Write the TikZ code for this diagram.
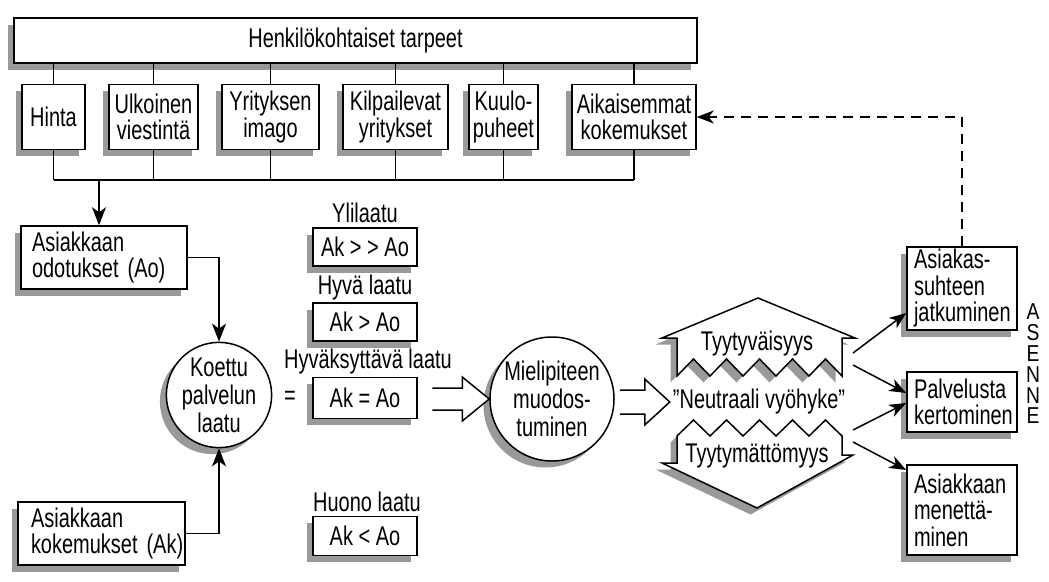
\documentclass[tikz,border=0pt]{standalone}
\usepackage{fontspec}
\setmainfont{Liberation Sans}[FakeStretch=0.74]
\newfontfamily\letterfont{Liberation Sans}[FakeStretch=0.84]
\usetikzlibrary{arrows.meta,shadows}
\definecolor{shade}{gray}{0.6}
\begin{document}
\begin{tikzpicture}[x=1pt,y=-1pt,
  txt/.style={font=\fontsize{27}{26.5}\selectfont},
  shd/.style={drop shadow={shadow xshift=-6.5pt,shadow yshift=-6.5pt,fill=shade,opacity=1}},
  boxc/.style={txt,draw,line width=1.5pt,fill=white,inner sep=0pt,align=center,shd},
  boxl/.style={txt,draw,line width=1.5pt,fill=white,inner sep=0pt,align=left,shd},
  disc/.style={circle,draw,line width=1.5pt,fill=white,inner sep=0pt,align=center,shd,
               font=\fontsize{27}{28}\selectfont},
  lbl/.style={txt,inner sep=0pt},
  letter/.style={inner sep=0pt,font=\letterfont\fontsize{23}{23}\selectfont},
  link/.style={line width=1.5pt},
  arr/.style={link,-{Stealth[length=18pt,width=14pt,inset=5pt]}},
  sarr/.style={link,-{Stealth[length=17pt,width=13pt,inset=5pt]}},
  zone/.style={line width=1.5pt,fill=white,line join=miter,
               preaction={fill=shade,draw=none,transform canvas={xshift=-6.5pt,yshift=-6.5pt}}},
  hollow/.style={line width=1.5pt,fill=white,line join=miter},
]
\fill[white] (0,0) rectangle (1049,581);
\useasboundingbox (0,0) rectangle (1049,581);

% needs and their sources
\node[boxc,minimum width=683pt,minimum height=45pt] (need) at (355.5,40.5) {Henkilökohtaiset tarpeet};
\node[boxc,minimum width=63pt,minimum height=65pt]  (hinta) at (53.5,117)  {Hinta};
\node[boxc,minimum width=89pt,minimum height=65pt]  (ulk)   at (153.5,117) {Ulkoinen\\viestintä};
\node[boxc,minimum width=97pt,minimum height=65pt]  (imago) at (270.5,117) {Yrityksen\\imago};
\node[boxc,minimum width=105pt,minimum height=65pt] (kilp)  at (395.5,117) {Kilpailevat\\yritykset};
\node[boxc,minimum width=69pt,minimum height=65pt]  (kuulo) at (503.5,117) {Kuulo-\\puheet};
\node[boxc,minimum width=124pt,minimum height=65pt] (aik)   at (634,117)   {Aikaisemmat\\kokemukset};

\coordinate (bus) at (0,180);
\coordinate (busdrop) at (99,180);
\foreach \n in {hinta,ulk,imago,kilp,kuulo,aik}{
  \draw[link] (\n.north |- need.south) -- (\n.north);
  \draw[link] (\n.south) -- (\n.south |- bus);
}
\draw[link] (hinta.south |- bus) -- (aik.south |- bus);

% expectations, experiences and perceived quality
\node[boxl,minimum width=166pt,minimum height=63pt,text width=144pt] (odot) at (104,257.5)
  {Asiakkaan\\\mbox{odotukset (Ao)}};
\node[boxl,minimum width=167pt,minimum height=63pt,text width=141pt] (kok) at (101.5,533.5)
  {Asiakkaan\\\mbox{kokemukset (Ak)}};
\node[disc,minimum size=100pt] (koettu) at (219,395) {Koettu\\palvelun\\laatu};

\draw[arr] (busdrop) -- (busdrop |- odot.north);
\draw[arr] (odot.east) -| (koettu.north);
\draw[arr] (kok.east) -| (koettu.south);

\node[lbl] (eq) at (290,398) {=};

% quality levels
\node[lbl] (t1) at (365,213) {Ylilaatu};
\node[boxc,minimum width=104pt,minimum height=38pt] (q1) at (365,247) {Ak > > Ao};
\node[lbl] (t2) at (365,288) {Hyvä laatu};
\node[boxc,minimum width=104pt,minimum height=38pt] (q2) at (365,322) {Ak > Ao};
\node[lbl] (t3) at (368,362) {Hyväksyttävä laatu};
\node[boxc,minimum width=104pt,minimum height=41pt] (q3) at (365,398) {Ak = Ao};
\node[lbl] (t4) at (367,502) {Huono laatu};
\node[boxc,minimum width=104pt,minimum height=39pt] (q4) at (365,536) {Ak < Ao};

% opinion forming
\node[disc,minimum size=124pt] (mieli) at (552,399) {Mielipiteen\\muodos-\\tuminen};
\draw[hollow] ([shift={(-57,-11)}]mieli.west) -- ++(30,0) -- ++(0,-11) -- (mieli.west)
  -- ++(-27,22) -- ++(0,-11) -- ++(-30,0);

% satisfaction zones
\draw[zone] (677,376) -- (677,338) -- (662,338) -- (758,298) -- (855,338) -- (842,338)
  -- (842,376) -- (825.5,359) -- (809,376) -- (792.5,359) -- (776,376) -- (759.5,359)
  -- (743,376) -- (726.5,359) -- (710,376) -- (693.5,359) -- cycle;
\draw[zone] (677,436) -- (677,463) -- (662,463) -- (757,508) -- (853,455) -- (842,455)
  -- (842,436) -- (825.5,420) -- (809,436) -- (792.5,420) -- (776,436) -- (759.5,420)
  -- (743,436) -- (726.5,420) -- (710,436) -- (693.5,420) -- cycle;
\node[lbl] (satis) at (757,344) {Tyytyväisyys};
\node[lbl] (neutral) at (759,402) {”Neutraali vyöhyke”};
\node[lbl] (dissat) at (757,456) {Tyytymättömyys};

\coordinate (ntip) at ([xshift=-3pt]neutral.west);
\draw[hollow] ([shift={(-50,-12)}]ntip) -- ++(25,0) -- ++(0,-11) -- (ntip)
  -- ++(-25,23) -- ++(0,-11) -- ++(-25,0);

% outcomes
\node[boxl,minimum width=110pt,minimum height=83pt,text width=96pt] (suhde) at (962,288.5)
  {Asiakas-\\suhteen\\jatkuminen};
\node[boxl,minimum width=110pt,minimum height=60pt,text width=96pt] (palv) at (962,402)
  {Palvelusta\\kertominen};
\node[boxl,minimum width=110pt,minimum height=90pt,text width=96pt] (menet) at (962,510)
  {Asiakkaan\\menettä-\\minen};

\coordinate (z1) at (853,353);
\coordinate (z2) at (853,365);
\coordinate (z3) at (853,430);
\coordinate (z4) at (853,442);
\draw[sarr] (z1) -- ([yshift=-24.5pt]suhde.west);
\draw[sarr] (z2) -- ([yshift=9pt]palv.west);
\draw[sarr] (z3) -- ([yshift=-1pt]palv.west);
\draw[sarr] (z4) -- ([yshift=40pt]menet.west);

\draw[sarr,line width=1.7pt,dash pattern=on 10pt off 7pt] (suhde.north) |- (aik.east);

% attitude, spelled downwards
\foreach \c [count=\i from 0] in {A,S,E,N,N,E}
  \node[letter] (asenne\i) at (1033,{312+20.8*\i}) {\c};
\end{tikzpicture}
\end{document}
